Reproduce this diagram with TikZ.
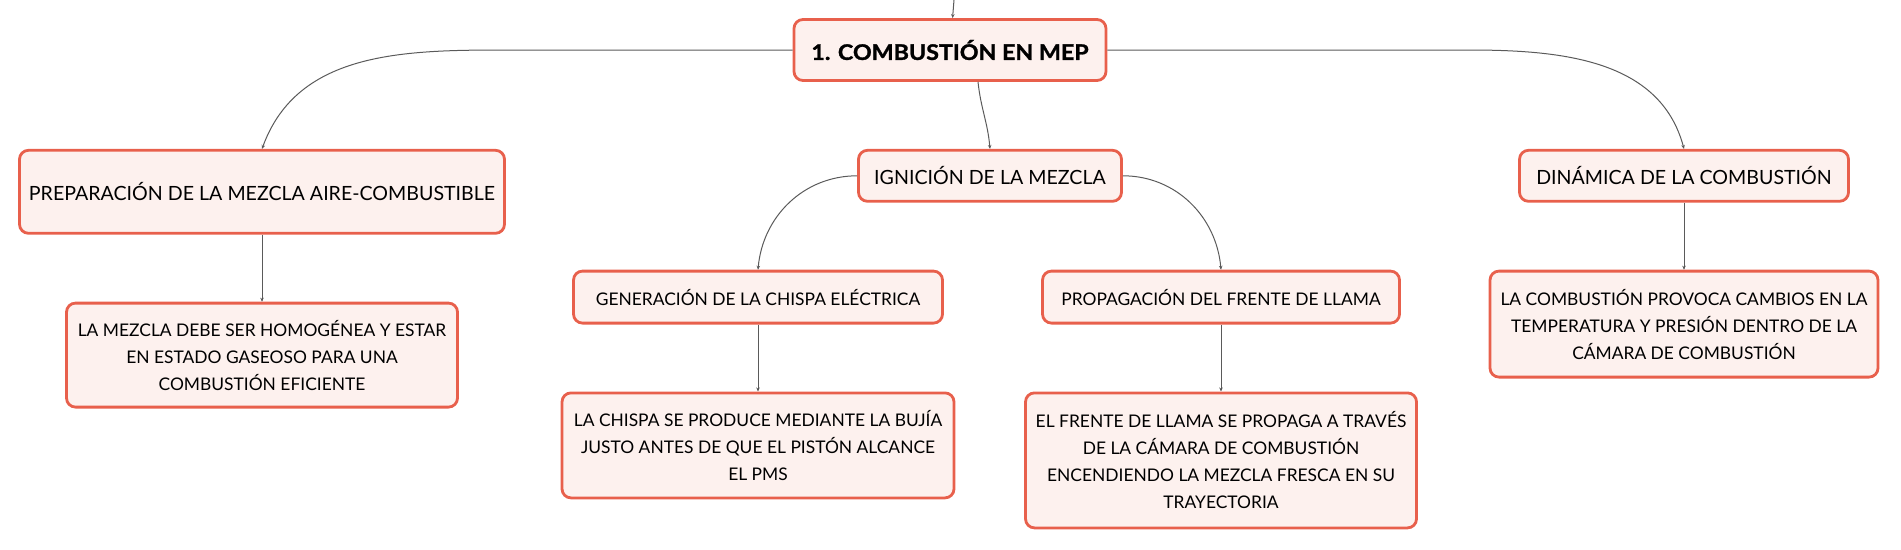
\documentclass[tikz,border=0pt]{standalone}
\usepackage{fontspec}
\setmainfont{Lato}
\newfontfamily\rootfont[FakeStretch=1.08,BoldFeatures={FakeBold=1.3}]{Lato}
\usetikzlibrary{positioning, arrows.meta}
\definecolor{boxline}{HTML}{E8604C}
\definecolor{boxfill}{HTML}{FDF1EE}
\definecolor{linkgray}{HTML}{5A5A5A}

\begin{document}
\begin{tikzpicture}[x=1pt,y=-1pt,node distance=67pt,
 every node/.style={font=\fontsize{17.4}{27}\selectfont,text=black},
 box node/.style={rectangle,rounded corners=9pt,draw=boxline,line width=2.8pt,
   fill=boxfill,align=center,inner sep=0pt},
 topic node/.style={box node,font=\fontsize{19.6}{27}\selectfont},
 root node/.style={box node,font=\rootfont\bfseries\fontsize{21.5}{27}\selectfont},
 link/.style={draw=linkgray,line width=1pt,-{Stealth[length=4pt,width=3.5pt]}}]
  \useasboundingbox (0,0) rectangle (1901,549);
  \node[root node,minimum width=312pt,minimum height=61pt] (root) at (950,50) {1. COMBUSTIÓN EN MEP};
  \node[topic node,minimum width=485pt,minimum height=83pt] (prep) [below=of root,xshift=-688pt] {PREPARACIÓN DE LA MEZCLA AIRE-COMBUSTIBLE};
  \node[topic node,minimum width=263pt,minimum height=51pt] (ign) [below=of root,xshift=40pt] {IGNICIÓN DE LA MEZCLA};
  \node[topic node,minimum width=329pt,minimum height=51pt] (din) [below=of root,xshift=734pt] {DINÁMICA DE LA COMBUSTIÓN};
  \node[box node,minimum width=391pt,minimum height=104pt] (mezcla) [below=of prep] {LA MEZCLA DEBE SER HOMOGÉNEA Y ESTAR\\EN ESTADO GASEOSO PARA UNA\\COMBUSTIÓN EFICIENTE};
  \node[box node,minimum width=369pt,minimum height=52pt] (gen) [below=of ign,xshift=-232pt] {GENERACIÓN DE LA CHISPA ELÉCTRICA};
  \node[box node,minimum width=357pt,minimum height=52pt] (prop) [below=of ign,xshift=231pt] {PROPAGACIÓN DEL FRENTE DE LLAMA};
  \node[box node,minimum width=392pt,minimum height=105pt] (chispa) [below=of gen] {LA CHISPA SE PRODUCE MEDIANTE LA BUJÍA\\JUSTO ANTES DE QUE EL PISTÓN ALCANCE\\EL PMS};
  \node[box node,minimum width=391pt,minimum height=135pt] (frente) [below=of prop] {EL FRENTE DE LLAMA SE PROPAGA A TRAVÉS\\DE LA CÁMARA DE COMBUSTIÓN\\ENCENDIENDO LA MEZCLA FRESCA EN SU\\TRAYECTORIA};
  \node[box node,minimum width=388pt,minimum height=106pt] (provoca) [below=of din] {LA COMBUSTIÓN PROVOCA CAMBIOS EN LA\\TEMPERATURA Y PRESIÓN DENTRO DE LA\\CÁMARA DE COMBUSTIÓN};

  \coordinate (top) at (954,0);
  \coordinate (pbend) at (512,50);
  \coordinate (dbend) at (1468,50);

  \draw[link] (top) -- (root);
  \draw[link] (root.west) -- (pbend) to[out=180,in=70] (prep.north);
  \draw[link] (root.east) -- (dbend) to[out=0,in=105] (din.north);
  \draw[link] ([xshift=28pt]root.south) to[out=-84,in=95] (ign.north);
  \draw[link] (ign.west) to[out=180,in=85] (gen.north);
  \draw[link] (ign.east) to[out=0,in=95] (prop.north);

  \foreach \s/\t in {prep/mezcla, gen/chispa, prop/frente, din/provoca} {
   \path[link] (\s) edge (\t);}
\end{tikzpicture}
\end{document}
